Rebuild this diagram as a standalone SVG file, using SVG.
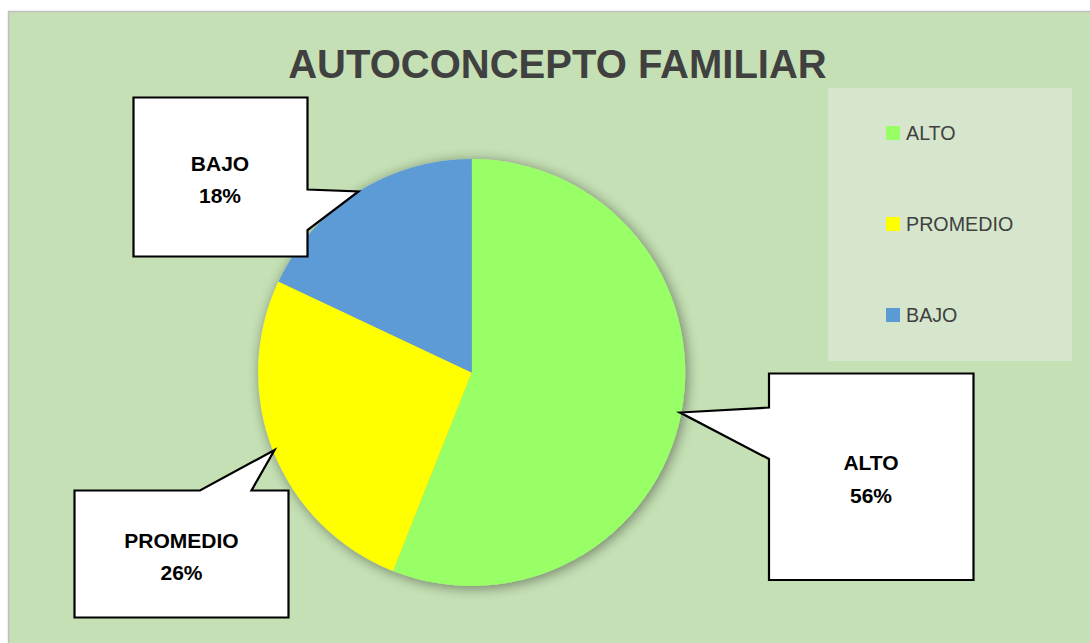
<svg xmlns="http://www.w3.org/2000/svg" width="1090" height="643" viewBox="0 0 1090 643">
  <defs>
    <filter id="shadow" x="-20%" y="-20%" width="140%" height="140%">
      <feGaussianBlur in="SourceAlpha" stdDeviation="6.5"/>
      <feOffset dx="2" dy="2" result="b"/>
      <feComponentTransfer><feFuncA type="linear" slope="0.45"/></feComponentTransfer>
      <feMerge><feMergeNode/><feMergeNode in="SourceGraphic"/></feMerge>
    </filter>
    <style>
      .callout { fill: #FFFFFF; stroke: #000000; stroke-width: 2.2; stroke-linejoin: miter; }
      .clabel { font-family: "Liberation Sans", Arial, sans-serif; font-weight: bold; font-size: 21px; fill: #000000; text-anchor: middle; }
      .legtext { font-family: "Liberation Sans", Arial, sans-serif; font-size: 19.7px; fill: #404040; }
      .title { font-family: "Liberation Sans", Arial, sans-serif; font-weight: bold; font-size: 40px; fill: #404040; text-anchor: middle; }
    </style>
  </defs>
  <rect x="0" y="0" width="1090" height="643" fill="#FFFFFF"/>
  <rect x="8.5" y="11.5" width="1090" height="640" fill="#C5E0B4" stroke="#BFBFBF" stroke-width="1.5"/>
  <text class="title" x="557.5" y="78">AUTOCONCEPTO FAMILIAR</text>

  <g id="pie" filter="url(#shadow)">
    <path id="slice-alto" d="M471.7,372.5 L471.7,159 A213.5,213.5 0 1 1 393.1,571 Z" fill="#99FF66"/>
    <path id="slice-promedio" d="M471.7,372.5 L393.1,571 A213.5,213.5 0 0 1 278.5,281.6 Z" fill="#FFFF00"/>
    <path id="slice-bajo" d="M471.7,372.5 L278.5,281.6 A213.5,213.5 0 0 1 471.7,159 Z" fill="#5B9BD5"/>
  </g>

  <g id="legend">
    <rect x="828" y="88" width="244" height="273" fill="#D6E6CD"/>
    <rect x="886" y="126" width="14" height="14" fill="#99FF66"/>
    <text class="legtext" x="906" y="140">ALTO</text>
    <rect x="886" y="217" width="14" height="14" fill="#FFFF00"/>
    <text class="legtext" x="906" y="231">PROMEDIO</text>
    <rect x="886" y="308" width="14" height="14" fill="#5B9BD5"/>
    <text class="legtext" x="906" y="322">BAJO</text>
  </g>

  <g id="callout-bajo">
    <path class="callout" d="M133.5,97.5 H307.5 V189.5 L358.5,191.5 L307.5,230 V256.5 H133.5 Z"/>
    <text class="clabel" x="220" y="171">BAJO</text>
    <text class="clabel" x="220" y="203">18%</text>
  </g>
  <g id="callout-alto">
    <path class="callout" d="M769,373.5 H973.5 V580 H769 V459 L680,412.5 L769,407.5 Z"/>
    <text class="clabel" x="871" y="470">ALTO</text>
    <text class="clabel" x="871" y="502.5">56%</text>
  </g>
  <g id="callout-promedio">
    <path class="callout" d="M74.5,490.5 H200 L274.5,450 L251.5,490.5 H288.5 V617.5 H74.5 Z"/>
    <text class="clabel" x="181.5" y="548">PROMEDIO</text>
    <text class="clabel" x="181.5" y="580">26%</text>
  </g>
  <g id="connectors"/>
</svg>
